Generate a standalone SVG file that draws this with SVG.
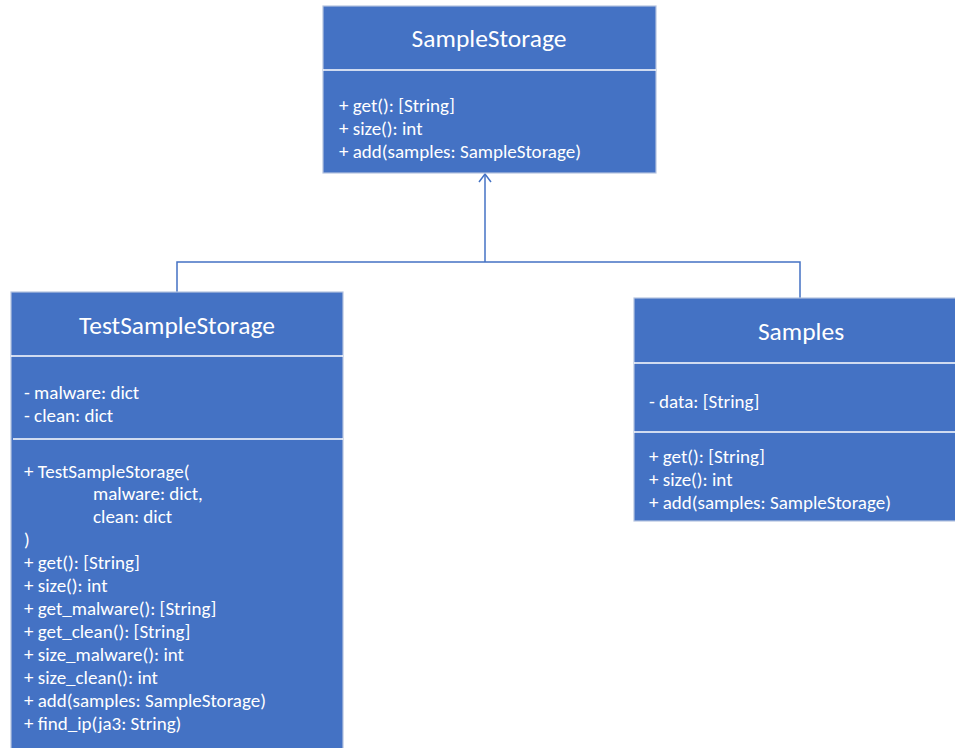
<svg xmlns="http://www.w3.org/2000/svg" width="955" height="748" viewBox="0 0 955 748">
  <style>
    .box { fill: #4472C4; stroke: #B4C3E0; stroke-width: 1.2; }
    .div { stroke: #FFFFFF; stroke-width: 1.5; }
    .t { font-family: Carlito, "Liberation Sans", Arial, sans-serif; fill: #FFFFFF; }
    .title { font-size: 25.5px; text-anchor: middle; }
    .m { font-size: 19px; }
    .conn { fill: none; stroke: #4472C4; stroke-width: 1.5; }
  </style>
  <defs>
    <marker id="openArrow" markerWidth="10" markerHeight="14" refX="9" refY="7" orient="auto" markerUnits="userSpaceOnUse" viewBox="0 0 10 14">
      <path d="M1,1 L9,7 L1,13" fill="none" stroke="#4472C4" stroke-width="1.5"/>
    </marker>
  </defs>
  <rect width="955" height="748" fill="#FFFFFF"/>

  <g id="connectors">
    <path class="conn" d="M485,262 L485,174" marker-end="url(#openArrow)"/>
    <path class="conn" d="M177,292 L177,262 L800,262 L800,298"/>
  </g>

  <g id="SampleStorage">
    <rect class="box" x="323" y="6" width="333" height="167"/>
    <line class="div" x1="323" y1="70" x2="656" y2="70"/>
    <text class="t title" x="489" y="47">SampleStorage</text>
    <text class="t m" x="339" y="112">+ get(): [String]</text>
    <text class="t m" x="339" y="135">+ size(): int</text>
    <text class="t m" x="339" y="158">+ add(samples: SampleStorage)</text>
  </g>

  <g id="TestSampleStorage">
    <rect class="box" x="11" y="292" width="332" height="460"/>
    <line class="div" x1="11" y1="356" x2="343" y2="356"/>
    <line class="div" x1="13" y1="439" x2="343" y2="439"/>
    <text class="t title" x="177" y="334">TestSampleStorage</text>
    <text class="t m" x="24" y="399">- malware: dict</text>
    <text class="t m" x="24" y="422">- clean: dict</text>
    <text class="t m" x="24" y="478">+ TestSampleStorage(</text>
    <text class="t m" x="93" y="500">malware: dict,</text>
    <text class="t m" x="93" y="523">clean: dict</text>
    <text class="t m" x="24" y="546">)</text>
    <text class="t m" x="24" y="569">+ get(): [String]</text>
    <text class="t m" x="24" y="592">+ size(): int</text>
    <text class="t m" x="24" y="615">+ get_malware(): [String]</text>
    <text class="t m" x="24" y="638">+ get_clean(): [String]</text>
    <text class="t m" x="24" y="661">+ size_malware(): int</text>
    <text class="t m" x="24" y="684">+ size_clean(): int</text>
    <text class="t m" x="24" y="707">+ add(samples: SampleStorage)</text>
    <text class="t m" x="24" y="730">+ find_ip(ja3: String)</text>
  </g>

  <g id="Samples">
    <rect class="box" x="634" y="298" width="330" height="223"/>
    <line class="div" x1="634" y1="363" x2="955" y2="363"/>
    <line class="div" x1="634" y1="432" x2="955" y2="432"/>
    <text class="t title" x="801" y="340">Samples</text>
    <text class="t m" x="649" y="408">- data: [String]</text>
    <text class="t m" x="649" y="463">+ get(): [String]</text>
    <text class="t m" x="649" y="486">+ size(): int</text>
    <text class="t m" x="649" y="509">+ add(samples: SampleStorage)</text>
  </g>
</svg>
